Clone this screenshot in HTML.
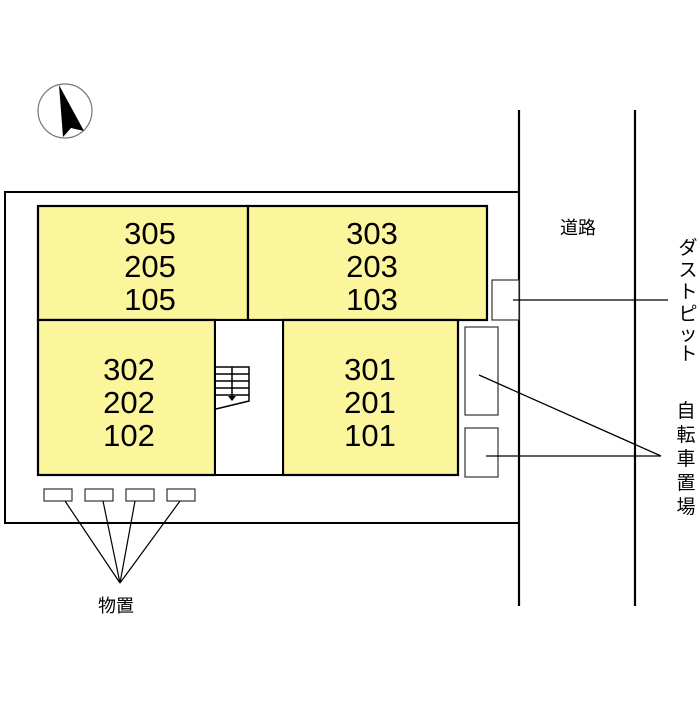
<!DOCTYPE html>
<html><head><meta charset="utf-8"><style>
body{margin:0;background:#fff;width:700px;height:700px;overflow:hidden}
svg text{font-family:"Liberation Sans","Noto Sans CJK JP",sans-serif}
</style></head><body>
<svg width="700" height="700" viewBox="0 0 700 700" xmlns="http://www.w3.org/2000/svg">
<rect width="700" height="700" fill="#fff"/>
<!-- compass -->
<circle cx="65" cy="111" r="27" fill="#fff" stroke="#777" stroke-width="1.2"/>
<polygon points="59,85 84,131 71,128 63,137" fill="#000"/>
<!-- site boundary -->
<path d="M519,192 H5 V523 H519" fill="none" stroke="#000" stroke-width="2"/>
<!-- roads -->
<line x1="519" y1="110" x2="519" y2="606" stroke="#000" stroke-width="2.2"/>
<line x1="635" y1="110" x2="635" y2="606" stroke="#000" stroke-width="2.2"/>
<!-- units -->
<g stroke="#000" stroke-width="2.2" fill="#fbf59c">
<rect x="38" y="206" width="210" height="114"/>
<rect x="248" y="206" width="239" height="114"/>
<rect x="38" y="320" width="177" height="155"/>
<rect x="283" y="320" width="175" height="155"/>
</g>
<rect x="215" y="320" width="68" height="155" fill="#fff" stroke="#000" stroke-width="2"/>
<!-- stairs -->
<g stroke="#000" stroke-width="1.5" fill="none">
<path d="M216,367 H249 V401 L216,409"/>
<line x1="216" y1="374" x2="249" y2="374"/><line x1="216" y1="381" x2="249" y2="381"/>
<line x1="216" y1="388" x2="249" y2="388"/><line x1="216" y1="395" x2="249" y2="395"/>
<line x1="232" y1="367" x2="232" y2="398"/>
</g>
<polygon points="228,396 236,396 232,401" fill="#000"/>
<g font-size="31" text-anchor="middle" fill="#000">
<text x="150" y="244">305</text><text x="150" y="277">205</text><text x="150" y="310">105</text>
<text x="372" y="244">303</text><text x="372" y="277">203</text><text x="372" y="310">103</text>
<text x="129" y="380">302</text><text x="129" y="413">202</text><text x="129" y="446">102</text>
<text x="370" y="380">301</text><text x="370" y="413">201</text><text x="370" y="446">101</text>
</g>
<!-- dust pit, bikes -->
<g fill="#fff" stroke="#333" stroke-width="1.2">
<rect x="492" y="280" width="27" height="40"/>
<rect x="465" y="327" width="33" height="88"/>
<rect x="465" y="428" width="33" height="49"/>
</g>
<g stroke="#000" stroke-width="1.3">
<line x1="513" y1="300" x2="668" y2="300"/>
<line x1="479" y1="375" x2="661" y2="456"/>
<line x1="486" y1="456" x2="661" y2="456"/>
</g>
<!-- storage -->
<g fill="#fff" stroke="#333" stroke-width="1.2">
<rect x="44" y="489" width="28" height="12"/><rect x="85" y="489" width="28" height="12"/>
<rect x="126" y="489" width="28" height="12"/><rect x="167" y="489" width="28" height="12"/>
</g>
<g stroke="#000" stroke-width="1.2">
<line x1="65" y1="501" x2="120" y2="583"/><line x1="103" y1="501" x2="120" y2="583"/>
<line x1="135" y1="501" x2="120" y2="583"/><line x1="180" y1="501" x2="120" y2="583"/>
</g>
<g font-size="18" fill="#000">
<text x="98" y="612">物置</text>
<text x="560" y="234">道路</text>
</g>
<g font-size="19" fill="#000" text-anchor="middle">
<text x="688" y="254">ダ</text><text x="688" y="276">ス</text><text x="688" y="298">ト</text>
<text x="688" y="320">ピ</text><text x="688" y="340">ッ</text><text x="688" y="360">ト</text>
<text x="686" y="417">自</text><text x="686" y="441">転</text><text x="686" y="465">車</text>
<text x="686" y="489">置</text><text x="686" y="513">場</text>
</g>
</svg>
</body></html>
